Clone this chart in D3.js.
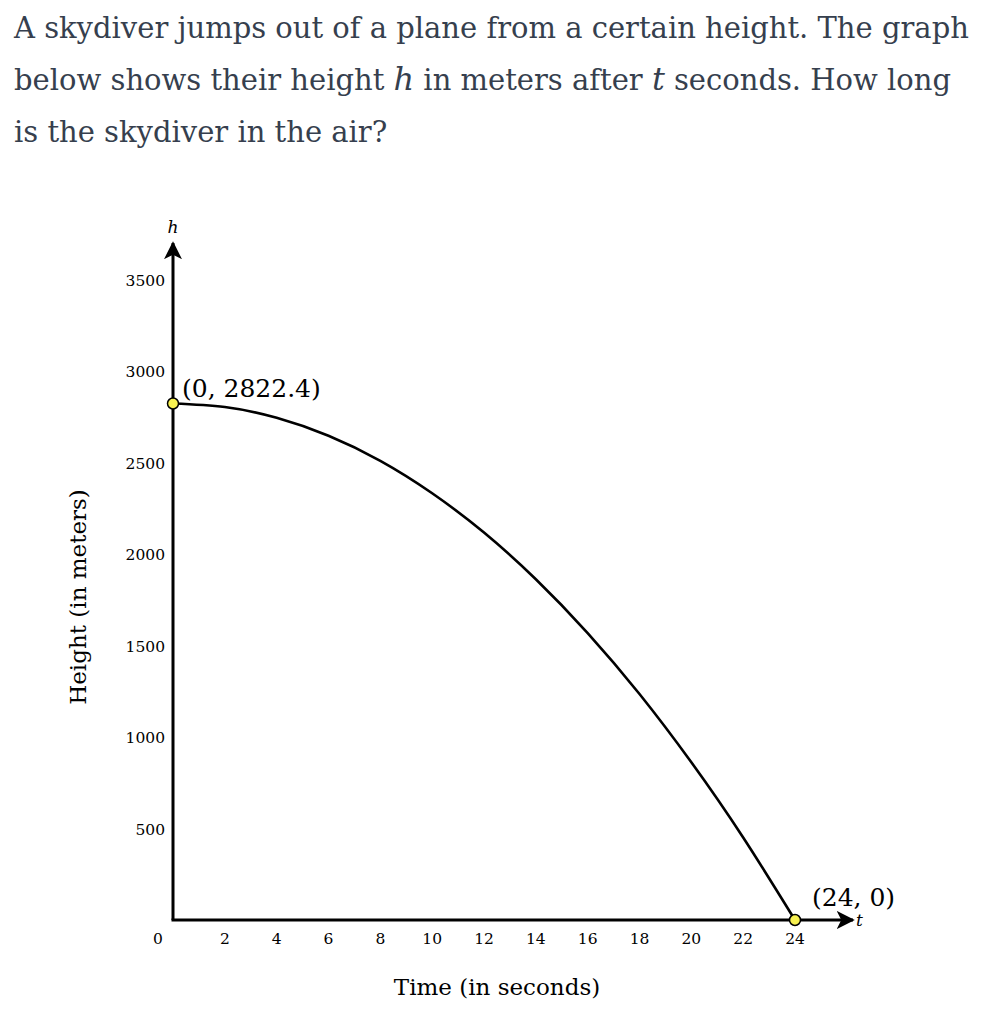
<!DOCTYPE html>
<html>
<head>
<meta charset="utf-8">
<script src="https://cdn.jsdelivr.net/npm/d3@7"></script>
<style>
body{margin:0;background:#fff;}
svg text{font-family:"DejaVu Serif","Liberation Serif",serif;}
</style>
</head>
<body>
<script>
// values
var question=["A skydiver jumps out of a plane from a certain height. The graph",
              "below shows their height |h| in meters after |t| seconds. How long",
              "is the skydiver in the air?"]
var tTicks=[0,2,4,6,8,10,12,14,16,18,20,22,24]
var hTicks=[500,1000,1500,2000,2500,3000,3500]
var times=[0,2,4,6,8,10,12,14,16,18,20,22,24]
var heights=[2822.4,2803,2744,2646,2509,2332,2117,1862,1568,1235,862,451,0]
var marked=[{t:0,h:2822.4,label:"(0, 2822.4)"},{t:24,h:0,label:"(24, 0)"}]

var screen={width:985,height:1014}
var svg=d3.select("body").append("svg")
          .attr("width",screen.width)
          .attr("height",screen.height)

// question text
var q=svg.append("g")
question.forEach(function(line,i){
  var txt=q.append("text")
           .attr("x",14)
           .attr("y",38+i*52)
           .attr("fill","#363f4e")
           .style("font-size","29px")
  line.split("|").forEach(function(part,j){
    var s=txt.append("tspan").text(part)
    if(j%2==1){s.style("font-style","italic").style("font-size","32px")}
  })
})

var x=d3.scaleLinear().domain([0,24]).range([173,795])
var y=d3.scaleLinear().domain([0,3500]).range([920,279.5])

svg.append("defs").append("marker")
   .attr("id","arrow")
   .attr("viewBox","0 0 10 10")
   .attr("refX",9).attr("refY",5)
   .attr("markerWidth",6).attr("markerHeight",6)
   .attr("markerUnits","strokeWidth")
   .attr("orient","auto")
   .append("path")
   .attr("d","M0,0 L10,5 L0,10 L2.5,5 Z")
   .attr("fill","#000")

// axes
svg.append("line")
   .attr("x1",x(0)).attr("y1",y(0)).attr("x2",x(0)).attr("y2",243)
   .attr("stroke","#000").attr("stroke-width",3)
   .attr("marker-end","url(#arrow)")
svg.append("line")
   .attr("x1",x(0)-1.5).attr("y1",y(0)).attr("x2",853).attr("y2",y(0))
   .attr("stroke","#000").attr("stroke-width",3)
   .attr("marker-end","url(#arrow)")

svg.append("text").attr("x",x(0)).attr("y",233)
   .attr("text-anchor","middle").style("font-style","italic").style("font-size","17px")
   .text("h")
svg.append("text").attr("x",856).attr("y",926)
   .style("font-style","italic").style("font-size","17px")
   .text("t")

// tick labels
svg.append("g").selectAll("text")
   .data(tTicks).enter().append("text")
   .attr("x",function(d){return d==0?x(d)-15:x(d)})
   .attr("y",944)
   .attr("text-anchor","middle")
   .style("font-size","15.5px")
   .text(function(d){return d})
svg.append("g").selectAll("text")
   .data(hTicks).enter().append("text")
   .attr("x",165)
   .attr("y",function(d){return y(d)+6})
   .attr("text-anchor","end")
   .style("font-size","15.5px")
   .text(function(d){return d})

// axis titles
svg.append("text").attr("x",497).attr("y",995)
   .attr("text-anchor","middle").style("font-size","23px")
   .text("Time (in seconds)")
svg.append("text")
   .attr("transform","translate(86,597) rotate(-90)")
   .attr("text-anchor","middle").style("font-size","23px")
   .text("Height (in meters)")

// curve
var line=d3.line()
           .x(function(d){return x(d[0])})
           .y(function(d){return y(d[1])})
           .curve(d3.curveNatural)
svg.append("path")
   .datum(d3.zip(times,heights))
   .attr("d",line)
   .attr("fill","none")
   .attr("stroke","#000")
   .attr("stroke-width",2.6)

// marked points
var pts=svg.append("g").selectAll("g").data(marked).enter().append("g")
pts.append("circle")
   .attr("cx",function(d){return x(d.t)})
   .attr("cy",function(d){return y(d.h)})
   .attr("r",5.5)
   .attr("fill","#f7f150")
   .attr("stroke","#000")
   .attr("stroke-width",1.5)
pts.append("text")
   .attr("x",function(d){return x(d.t)+(d.t==0?9:17)})
   .attr("y",function(d){return y(d.h)-(d.t==0?7:14)})
   .style("font-size","25px")
   .text(function(d){return d.label})
</script>
</body>
</html>
